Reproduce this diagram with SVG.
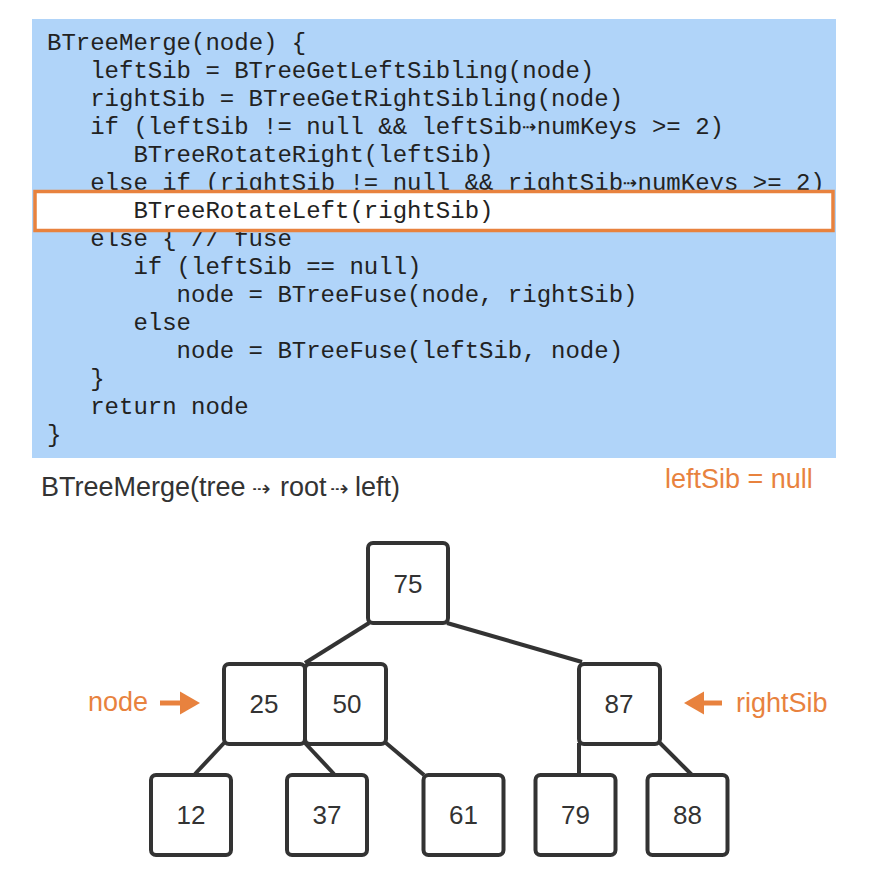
<svg xmlns="http://www.w3.org/2000/svg" width="896" height="876" viewBox="0 0 896 876">
<style>
.code{font-family:"Liberation Mono","DejaVu Sans Mono",monospace;font-size:24px;fill:#222}
.lbl{font-family:"Liberation Sans","DejaVu Sans",sans-serif;font-size:27px}
.orange{fill:#E8823E}
.num{font-family:"Liberation Sans","DejaVu Sans",sans-serif;font-size:26px;fill:#333;text-anchor:middle}
.box{fill:#fff;stroke:#333;stroke-width:4}
.edge{stroke:#333;stroke-width:4;fill:none}
</style>
<rect width="896" height="876" fill="#fff"/>
<g id="code">
<rect x="32" y="19" width="804" height="439" fill="#B0D4F9"/>
<text class="code" x="47" y="50">BTreeMerge(node) {</text>
<text class="code" x="90.2" y="78">leftSib = BTreeGetLeftSibling(node)</text>
<text class="code" x="90.2" y="106">rightSib = BTreeGetRightSibling(node)</text>
<text class="code" x="90.2" y="134">if (leftSib != null &amp;&amp; leftSib⇢numKeys &gt;= 2)</text>
<text class="code" x="133.4" y="162">BTreeRotateRight(leftSib)</text>
<text class="code" x="90.2" y="190">else if (rightSib != null &amp;&amp; rightSib⇢numKeys &gt;= 2)</text>
<text class="code" x="90.2" y="246">else { // fuse</text>
<text class="code" x="133.4" y="274">if (leftSib == null)</text>
<text class="code" x="176.6" y="302">node = BTreeFuse(node, rightSib)</text>
<text class="code" x="133.4" y="330">else</text>
<text class="code" x="176.6" y="358">node = BTreeFuse(leftSib, node)</text>
<text class="code" x="90.2" y="386">}</text>
<text class="code" x="90.2" y="414">return node</text>
<text class="code" x="47" y="442">}</text>
<rect x="35" y="191.5" width="798" height="39" fill="#fff" stroke="#E8823E" stroke-width="3.5"/>
<text class="code" x="133.4" y="218">BTreeRotateLeft(rightSib)</text>
</g>
<g id="title">
<text class="lbl" y="496" fill="#333"><tspan x="41">BTreeMerge(tree</tspan><tspan x="252" font-size="22" font-family="DejaVu Sans,sans-serif">⇢</tspan><tspan x="280">root</tspan><tspan x="330" font-size="22" font-family="DejaVu Sans,sans-serif">⇢</tspan><tspan x="355">left)</tspan></text>
<text class="lbl orange" x="665" y="488">leftSib = null</text>
</g>
<g id="connectors">
<line class="edge" x1="369" y1="623" x2="305" y2="663"/>
<line class="edge" x1="447" y1="623" x2="582" y2="662"/>
<line class="edge" x1="224" y1="743" x2="195" y2="774"/>
<line class="edge" x1="305" y1="743" x2="334" y2="774"/>
<line class="edge" x1="386" y1="743" x2="424" y2="775"/>
<line class="edge" x1="579" y1="743" x2="579" y2="775"/>
<line class="edge" x1="660" y1="743" x2="692" y2="775"/>
</g>
<g id="n75"><rect class="box" x="368" y="543" width="80" height="80" rx="5"/><text class="num" x="408" y="593">75</text></g>
<g id="n25"><rect class="box" x="224" y="664" width="81" height="80" rx="5"/><text class="num" x="264" y="713">25</text></g>
<g id="n50"><rect class="box" x="305" y="664" width="81" height="80" rx="5"/><text class="num" x="347" y="713">50</text></g>
<g id="n87"><rect class="box" x="579" y="664" width="81" height="80" rx="5"/><text class="num" x="619" y="713">87</text></g>
<g id="n12"><rect class="box" x="151" y="775" width="80" height="80" rx="5"/><text class="num" x="191" y="824">12</text></g>
<g id="n37"><rect class="box" x="287" y="775" width="80" height="80" rx="5"/><text class="num" x="327" y="824">37</text></g>
<g id="n61"><rect class="box" x="423.5" y="775" width="80" height="80" rx="5"/><text class="num" x="463.5" y="824">61</text></g>
<g id="n79"><rect class="box" x="535.5" y="775" width="80" height="80" rx="5"/><text class="num" x="575.5" y="824">79</text></g>
<g id="n88"><rect class="box" x="647.5" y="775" width="80" height="80" rx="5"/><text class="num" x="687.5" y="824">88</text></g>
<g id="label-node">
<text class="lbl orange" x="88" y="711">node</text>
<line x1="160" y1="703" x2="182" y2="703" stroke="#E8823E" stroke-width="5"/>
<polygon points="180,691.5 200,703 180,714.5" fill="#E8823E"/>
</g>
<g id="label-rightSib">
<text class="lbl orange" x="736" y="712">rightSib</text>
<line x1="702" y1="703" x2="722" y2="703" stroke="#E8823E" stroke-width="5"/>
<polygon points="704,691.5 684,703 704,714.5" fill="#E8823E"/>
</g>
</svg>
